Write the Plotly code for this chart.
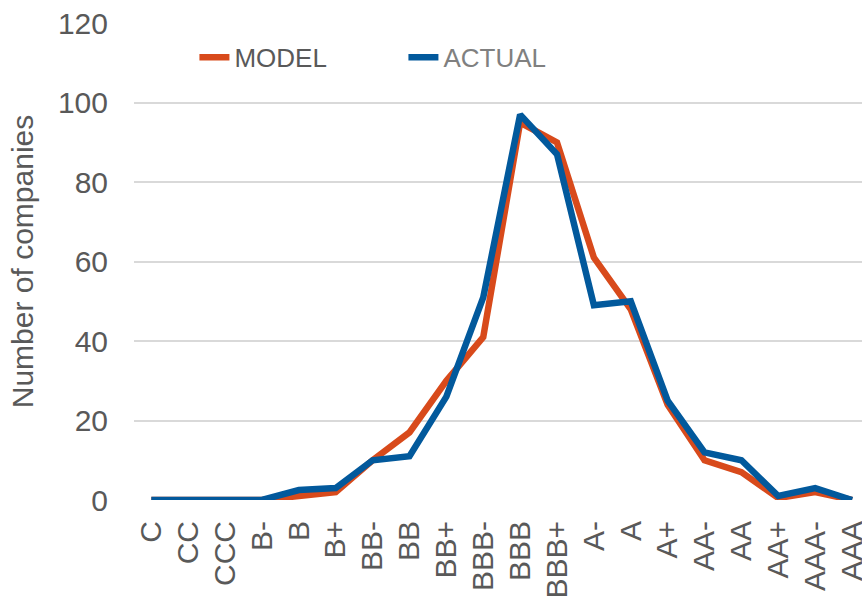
import plotly.graph_objects as go

ratings = ["C", "CC", "CCC", "B-", "B", "B+", "BB-", "BB", "BB+", "BBB-",
           "BBB", "BBB+", "A-", "A", "A+", "AA-", "AA", "AA+", "AAA-", "AAA"]
model = [0, 0, 0, 0, 1, 2, 10, 17, 30, 41, 95, 90, 61, 48, 24, 10, 7, 0.5, 2, 0]
actual = [0, 0, 0, 0, 2.5, 3, 10, 11, 26, 51, 97, 87, 49, 50, 25, 12, 10, 1, 3, 0]
y_ticks = [0, 20, 40, 60, 80, 100, 120]

fig = go.Figure()
fig.add_trace(go.Scatter(x=ratings, y=model, mode="lines", name="MODEL",
                         line=dict(color="#D84A1B", width=6.5)))
fig.add_trace(go.Scatter(x=ratings, y=actual, mode="lines",
                         name="<span style='color:#808080'>ACTUAL</span>",
                         line=dict(color="#02599C", width=6.5)))

fig.update_layout(
    width=862, height=602,
    margin=dict(l=134, r=0, t=23, b=102),
    paper_bgcolor="white", plot_bgcolor="white",
    font=dict(family="Liberation Sans, Arial, sans-serif", color="#595959", size=30),
    legend=dict(orientation="h", x=0.083, xanchor="left", y=0.928, yanchor="middle",
                font=dict(size=26, color="#595959"), entrywidth=164,
                bgcolor="rgba(0,0,0,0)"),
    xaxis=dict(type="category", range=[-0.47, 19.27], tickangle=-90,
               showgrid=False, showline=False, ticks="", automargin=False,
               ticklabelstandoff=14,
               tickfont=dict(size=30, color="#595959")),
    yaxis=dict(range=[0, 120.05], tickmode="array", tickvals=y_ticks,
               showgrid=True, gridcolor="#D9D9D9",
               gridwidth=1.5, zeroline=False, showline=False, ticks="",
               automargin=False, ticklabelstandoff=25,
               tickfont=dict(size=30, color="#595959"),
               title=dict(text="Number of companies", font=dict(size=30, color="#595959"))),
)

# remove the page's default 8px body margin so the figure sits at the window origin
fig.write_html("out.html",
               config={"displayModeBar": False},
               post_script="document.body.style.margin='0';document.body.style.overflow='hidden';")
